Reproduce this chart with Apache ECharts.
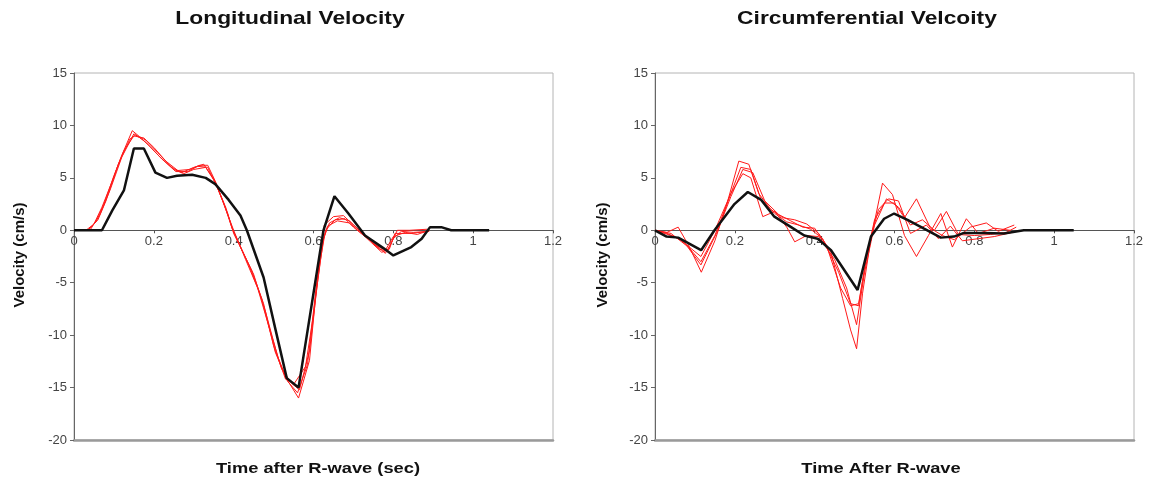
<!DOCTYPE html>
<html>
<head>
<meta charset="utf-8">
<script src="https://cdn.jsdelivr.net/npm/echarts@6/dist/echarts.min.js"></script>
<style>
  html, body { margin: 0; padding: 0; background: #fff; }
  #chart { width: 1151px; height: 482px; }
</style>
</head>
<body>
<div id="chart"></div>
<script>
// Time axis ticks (sec) and velocity ticks (cm/s)
const timeTicks = [0, 0.2, 0.4, 0.6, 0.8, 1, 1.2];
const velocityTicks = [-20, -15, -10, -5, 0, 5, 10, 15];

// Longitudinal velocity: individual beats [time, cm/s]
const longBeat1 = [[0.03,0],[0.05,0.6],[0.07,2.2],[0.095,4.6],[0.117,6.9],[0.146,9.5],[0.165,8.9],[0.18,8.6],[0.21,7.4],[0.245,6.0],[0.27,5.5],[0.30,6.0],[0.325,6.3],[0.355,4.5],[0.38,2.2],[0.398,0],[0.42,-1.8],[0.446,-3.9],[0.475,-7.0],[0.504,-11.6],[0.53,-14.0],[0.5625,-16.0],[0.59,-12.4],[0.605,-6.5],[0.617,-2.9],[0.63,0],[0.654,1.0],[0.679,1.1],[0.70,0.3],[0.729,-0.6],[0.771,-2.1],[0.79,-1.8],[0.804,-0.3],[0.845,-0.3],[0.888,-0.1]];
const longBeat2 = [[0.035,0],[0.06,1.0],[0.08,2.8],[0.11,6.2],[0.14,8.7],[0.155,9.1],[0.18,8.4],[0.215,7.0],[0.25,5.8],[0.275,5.4],[0.30,5.8],[0.33,6.0],[0.35,4.9],[0.375,2.6],[0.395,0.3],[0.44,-3.5],[0.47,-6.5],[0.50,-11.0],[0.53,-14.2],[0.552,-14.6],[0.58,-13.0],[0.60,-8.0],[0.615,-3.0],[0.627,0.5],[0.65,1.3],[0.675,1.4],[0.70,0.5],[0.73,-0.5],[0.765,-1.8],[0.785,-2.0],[0.80,-0.8],[0.82,-0.1],[0.85,-0.2],[0.89,-0.1]];
const longBeat3 = [[0.04,0],[0.065,1.5],[0.09,3.8],[0.12,7.0],[0.15,9.2],[0.17,8.7],[0.19,8.0],[0.22,6.8],[0.255,5.6],[0.285,5.6],[0.31,6.1],[0.335,6.0],[0.36,4.0],[0.385,1.6],[0.40,-0.3],[0.45,-4.2],[0.48,-7.8],[0.51,-12.0],[0.535,-14.4],[0.56,-15.5],[0.585,-12.8],[0.605,-6.0],[0.62,-1.5],[0.635,0.4],[0.66,0.9],[0.69,0.7],[0.72,-0.3],[0.75,-1.2],[0.78,-2.2],[0.795,-1.2],[0.81,0.0],[0.84,0.0],[0.885,0.1]];
const longBeat4 = [[0.035,0],[0.055,0.8],[0.075,2.5],[0.10,5.2],[0.125,7.6],[0.15,9.0],[0.175,8.8],[0.20,7.9],[0.23,6.6],[0.26,5.7],[0.29,5.8],[0.315,6.2],[0.335,6.2],[0.355,4.6],[0.38,2.0],[0.40,0.0],[0.43,-2.8],[0.46,-5.5],[0.49,-9.4],[0.52,-13.2],[0.545,-14.6],[0.565,-15.2],[0.59,-11.5],[0.61,-5.0],[0.625,-0.8],[0.64,0.7],[0.665,1.2],[0.69,0.9],[0.72,-0.2],[0.755,-1.4],[0.78,-1.9],[0.80,-0.6],[0.83,-0.2],[0.86,-0.4],[0.89,0.0]];
// Longitudinal velocity: mean curve
const longMean = [[0,0],[0.07,0],[0.096,1.9],[0.125,3.8],[0.15,7.8],[0.175,7.8],[0.204,5.5],[0.233,5.0],[0.258,5.2],[0.296,5.3],[0.33,5.0],[0.354,4.4],[0.3875,2.9],[0.417,1.4],[0.433,0],[0.475,-4.5],[0.505,-9.5],[0.533,-14.1],[0.5625,-15.0],[0.625,0],[0.6525,3.25],[0.6875,1.6],[0.729,-0.5],[0.775,-1.7],[0.80,-2.4],[0.845,-1.6],[0.871,-0.8],[0.892,0.3],[0.92,0.3],[0.945,0],[1.04,0]];

// Circumferential velocity: individual beats [time, cm/s]
const circBeat1 = [[0,0],[0.03,-0.2],[0.058,0.3],[0.085,-1.5],[0.116,-4.0],[0.15,-1.0],[0.18,2.5],[0.21,6.6],[0.235,6.3],[0.26,3.5],[0.29,2.0],[0.32,1.2],[0.35,1.0],[0.38,0.6],[0.41,-0.3],[0.44,-2.0],[0.47,-6.5],[0.49,-9.5],[0.505,-11.3],[0.52,-6.0],[0.54,-1.0],[0.57,4.5],[0.595,3.4],[0.625,-0.5],[0.655,-2.5],[0.685,-0.5],[0.716,1.6],[0.745,-1.6],[0.78,1.1],[0.81,-0.3],[0.85,0.2],[0.89,0.0]];
const circBeat2 = [[0,0],[0.04,-0.5],[0.07,-1.0],[0.115,-3.0],[0.15,-0.5],[0.185,3.0],[0.215,6.0],[0.24,5.8],[0.265,3.0],[0.30,1.6],[0.33,0.8],[0.36,0.5],[0.39,0.1],[0.42,-0.8],[0.46,-4.0],[0.49,-7.0],[0.51,-7.2],[0.53,-2.5],[0.55,1.0],[0.575,2.6],[0.60,2.6],[0.625,1.2],[0.655,3.0],[0.69,0.2],[0.72,-0.5],[0.75,-0.9],[0.79,0.3],[0.83,0.7],[0.86,-0.1],[0.90,0.5]];
const circBeat3 = [[0,0],[0.03,-0.3],[0.06,-0.8],[0.115,-2.5],[0.15,0.0],[0.19,3.5],[0.22,5.4],[0.24,5.0],[0.27,1.3],[0.30,1.8],[0.33,0.3],[0.35,-1.1],[0.38,-0.5],[0.41,-0.6],[0.45,-2.8],[0.48,-5.5],[0.505,-9.0],[0.525,-4.0],[0.55,0.5],[0.58,3.0],[0.61,2.2],[0.64,0.5],[0.67,1.0],[0.70,0.0],[0.73,1.8],[0.76,-0.4],[0.80,-0.5],[0.84,-0.4],[0.88,-0.2],[0.905,0.3]];
const circBeat4 = [[0,0],[0.04,-0.3],[0.08,-1.5],[0.115,-3.3],[0.155,-0.2],[0.19,3.2],[0.22,5.8],[0.245,5.5],[0.275,2.8],[0.31,1.5],[0.34,0.9],[0.37,0.3],[0.40,0.2],[0.43,-1.5],[0.465,-5.5],[0.49,-7.2],[0.51,-7.0],[0.535,-1.5],[0.56,2.0],[0.585,3.0],[0.61,2.8],[0.64,-0.3],[0.68,0.5],[0.71,-0.8],[0.74,0.4],[0.77,-1.0],[0.81,-0.8],[0.85,-0.6],[0.895,-0.2]];
// Circumferential velocity: mean curve
const circMean = [[0,0],[0.029,-0.6],[0.058,-0.7],[0.1155,-1.9],[0.149,0],[0.199,2.5],[0.2325,3.65],[0.266,2.9],[0.299,1.3],[0.341,0.3],[0.374,-0.5],[0.4075,-0.8],[0.441,-1.9],[0.5075,-5.7],[0.541,-0.6],[0.574,1.1],[0.599,1.6],[0.6325,1.0],[0.674,0.15],[0.716,-0.7],[0.749,-0.6],[0.774,-0.25],[0.824,-0.25],[0.874,-0.3],[0.924,0],[1.049,0]];

const FONT = 'Arial, "Liberation Sans", sans-serif';
const GRID_W = 479, GRID_TOP = 73, GRID_H = 367;
const panels = [
  { title: 'Longitudinal Velocity', xName: 'Time after R-wave (sec)', left: 74, titleX: 290, xNameX: 318, yNameX: 20, beats: [longBeat1, longBeat2, longBeat3, longBeat4], mean: longMean },
  { title: 'Circumferential Velcoity', xName: 'Time After R-wave', left: 655, titleX: 867, xNameX: 881, yNameX: 603, beats: [circBeat1, circBeat2, circBeat3, circBeat4], mean: circMean }
];
const vMin = velocityTicks[0], vMax = velocityTicks[velocityTicks.length - 1];
// distance from the bottom of the plot to the zero line, where the time axis sits
const zeroOffset = GRID_H * (0 - vMin) / (vMax - vMin);

const option = {
  animation: false,
  backgroundColor: '#fff',
  grid: panels.map(p => ({
    left: p.left, top: GRID_TOP, width: GRID_W, height: GRID_H,
    show: true, borderColor: '#b4b4b4', borderWidth: 1, backgroundColor: '#fff'
  })),
  xAxis: [],
  yAxis: panels.map((p, i) => ({
    type: 'value', gridIndex: i,
    min: vMin, max: vMax, interval: 5,
    axisLine: { show: true, onZero: false, lineStyle: { color: '#666', width: 1 } },
    axisTick: { show: true, length: 4, lineStyle: { color: '#666' } },
    axisLabel: { fontFamily: FONT, fontSize: 13, color: '#444', margin: 7 },
    splitLine: { show: false }
  })),
  graphic: [],
  series: []
};

panels.forEach((p, i) => {
  // time axis drawn along the zero line
  option.xAxis.push({
    type: 'value', gridIndex: i, position: 'bottom', offset: -zeroOffset,
    min: timeTicks[0], max: timeTicks[timeTicks.length - 1], interval: 0.2,
    axisLine: { onZero: false, lineStyle: { color: '#555', width: 1 } },
    axisTick: { show: true, length: 3, lineStyle: { color: '#555' } },
    axisLabel: { fontFamily: FONT, fontSize: 13, color: '#444', margin: 5 },
    splitLine: { show: false }
  });
  // heavier frame edge along the bottom of the plot
  option.xAxis.push({
    type: 'value', gridIndex: i, position: 'bottom',
    min: timeTicks[0], max: timeTicks[timeTicks.length - 1],
    axisLine: { onZero: false, lineStyle: { color: '#9a9a9a', width: 2.5 } },
    axisTick: { show: false }, axisLabel: { show: false }, splitLine: { show: false }
  });

  option.graphic.push(
    { type: 'text', x: p.titleX, y: 19, scaleX: 1.2,
      style: { text: p.title, font: 'bold 19px ' + FONT, fill: '#111', align: 'center', verticalAlign: 'middle' } },
    { type: 'text', x: p.xNameX, y: 469, scaleX: 1.22,
      style: { text: p.xName, font: 'bold 15px ' + FONT, fill: '#111', align: 'center', verticalAlign: 'middle' } },
    { type: 'text', x: p.yNameX, y: 255, rotation: Math.PI / 2,
      style: { text: 'Velocity (cm/s)', font: 'bold 15px ' + FONT, fill: '#111', align: 'center', verticalAlign: 'middle' } }
  );

  p.beats.forEach(b => option.series.push({
    type: 'line', xAxisIndex: 2 * i, yAxisIndex: i, data: b,
    showSymbol: false, symbol: 'none',
    lineStyle: { color: '#ff1a1a', width: 1 }, z: 2
  }));
  option.series.push({
    type: 'line', xAxisIndex: 2 * i, yAxisIndex: i, data: p.mean,
    showSymbol: false, symbol: 'none',
    lineStyle: { color: '#111', width: 2.5 }, z: 3
  });
});

const chart = echarts.init(document.getElementById('chart'), null, { renderer: 'canvas' });
chart.setOption(option);
</script>
</body>
</html>
